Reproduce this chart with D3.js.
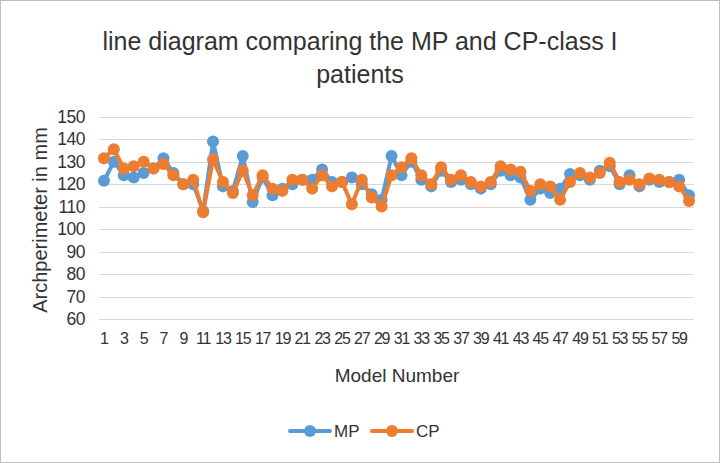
<!DOCTYPE html>
<html>
<head>
<meta charset="utf-8">
<script src="https://cdn.jsdelivr.net/npm/d3@7"></script>
<style>
  body { margin: 0; background: #fff; }
  text { font-family: "Liberation Sans", Arial, sans-serif; fill: #333; }
</style>
</head>
<body>
<div id="chart"></div>
<script>
// model numbers 1..60
var models = [
    1, 2, 3, 4, 5, 6, 7, 8, 9, 10, 11, 12, 13, 14, 15, 16, 17, 18, 19, 20,
    21, 22, 23, 24, 25, 26, 27, 28, 29, 30, 31, 32, 33, 34, 35, 36, 37, 38, 39, 40,
    41, 42, 43, 44, 45, 46, 47, 48, 49, 50, 51, 52, 53, 54, 55, 56, 57, 58, 59, 60
];

// archperimeter, MP series
var mpValues = [
    121.5, 130, 124, 123, 125, 127, 131.5, 125, 120, 120,
    108, 139, 119, 117, 132.5, 112, 123, 115, 118, 120,
    122, 122, 126.5, 121, 121, 123, 120, 115.5, 113, 132.5,
    124, 130, 122, 119, 126, 121, 122, 120, 118, 120,
    126, 124, 123, 113, 118, 116, 118, 124.5, 124, 122,
    126, 128, 120, 124, 119, 122, 121, 121, 122, 115
];

// archperimeter, CP series
var cpValues = [
    131.5, 135.5, 127, 128, 130, 127, 129, 124, 120, 122,
    107.5, 131, 121, 116, 126, 115, 124, 118, 117, 122,
    122, 118, 124, 119, 121, 111, 122, 114, 110, 124,
    127.5, 131.5, 124, 120, 127.5, 122, 124, 121, 119, 121,
    128, 126.5, 125.5, 117, 120, 119, 113, 121, 125, 123,
    125, 129.5, 121, 122, 120, 122.5, 122, 121, 119, 112.5
];

var yTicks = [60, 70, 80, 90, 100, 110, 120, 130, 140, 150];
var xTickLabels = models.filter(function(d) { return d % 2 === 1; });

var series = [
    { name: 'MP', values: mpValues, color: '#5B9BD5' },
    { name: 'CP', values: cpValues, color: '#ED7D31' }
];

var width = 720, height = 463;

var svg = d3.select('#chart').append('svg')
    .attr('width', width)
    .attr('height', height);

// chart border
svg.append('rect')
    .attr('x', 0.5).attr('y', 0.5)
    .attr('width', width - 1).attr('height', height - 1)
    .attr('fill', '#fff')
    .attr('stroke', '#bfbfbf');

var x = d3.scaleBand()
    .domain(models)
    .range([99, 694])
    .padding(0);

var y = d3.scaleLinear()
    .domain([60, 150])
    .range([319, 116.7]);

var cx = function(d) { return x(d) + x.bandwidth() / 2; };

// gridlines
svg.append('g')
    .selectAll('line')
    .data(yTicks)
    .enter().append('line')
    .attr('x1', 99).attr('x2', 694)
    .attr('y1', function(d) { return Math.round(y(d)) + 0.5; })
    .attr('y2', function(d) { return Math.round(y(d)) + 0.5; })
    .attr('stroke', '#d9d9d9')
    .attr('stroke-width', 1);

// y axis labels
var yAxis = d3.axisLeft(y).tickValues(yTicks).tickSize(0).tickPadding(0);
var gy = svg.append('g')
    .attr('transform', 'translate(85,0)')
    .call(yAxis);
gy.select('.domain').remove();
gy.selectAll('text')
    .style('font-size', '17.5px')
    .attr('letter-spacing', '-0.5px')
    .attr('fill', '#333');

// x axis labels
var xAxis = d3.axisBottom(x).tickValues(xTickLabels).tickSize(0).tickPadding(0);
var gx = svg.append('g')
    .attr('transform', 'translate(0,333)')
    .call(xAxis);
gx.select('.domain').remove();
gx.selectAll('text')
    .style('font-size', '16px')
    .attr('letter-spacing', '-1.2px')
    .attr('fill', '#333');

// titles
svg.append('text')
    .attr('x', 360).attr('y', 50)
    .attr('text-anchor', 'middle')
    .style('font-size', '25px')
    .text('line diagram comparing the MP and CP-class I');
svg.append('text')
    .attr('x', 360).attr('y', 83)
    .attr('text-anchor', 'middle')
    .style('font-size', '25px')
    .text('patients');

svg.append('text')
    .attr('transform', 'translate(47,220) rotate(-90)')
    .attr('text-anchor', 'middle')
    .style('font-size', '20px')
    .text('Archperimeter in mm');

svg.append('text')
    .attr('x', 397).attr('y', 382)
    .attr('text-anchor', 'middle')
    .style('font-size', '19px')
    .text('Model Number');

// lines and markers
var line = d3.line()
    .x(function(d, i) { return cx(models[i]); })
    .y(function(d) { return y(d); });

series.forEach(function(s) {
    var g = svg.append('g');
    g.append('path')
        .datum(s.values)
        .attr('d', line)
        .attr('fill', 'none')
        .attr('stroke', s.color)
        .attr('stroke-width', 4)
        .attr('stroke-linejoin', 'round');
    g.selectAll('circle')
        .data(s.values)
        .enter().append('circle')
        .attr('cx', function(d, i) { return cx(models[i]); })
        .attr('cy', function(d) { return y(d); })
        .attr('r', 6)
        .attr('fill', s.color);
});

// legend
var legend = svg.append('g');
var legendX = [290, 372];
series.forEach(function(s, i) {
    var lg = legend.append('g')
        .attr('transform', 'translate(' + legendX[i] + ',431)');
    lg.append('line')
        .attr('x1', 0).attr('x2', 40)
        .attr('stroke', s.color)
        .attr('stroke-width', 4)
        .attr('stroke-linecap', 'round');
    lg.append('circle')
        .attr('cx', 20).attr('r', 6)
        .attr('fill', s.color);
    lg.append('text')
        .attr('x', 44).attr('y', 6)
        .style('font-size', '17px')
        .text(s.name);
});
</script>
</body>
</html>
